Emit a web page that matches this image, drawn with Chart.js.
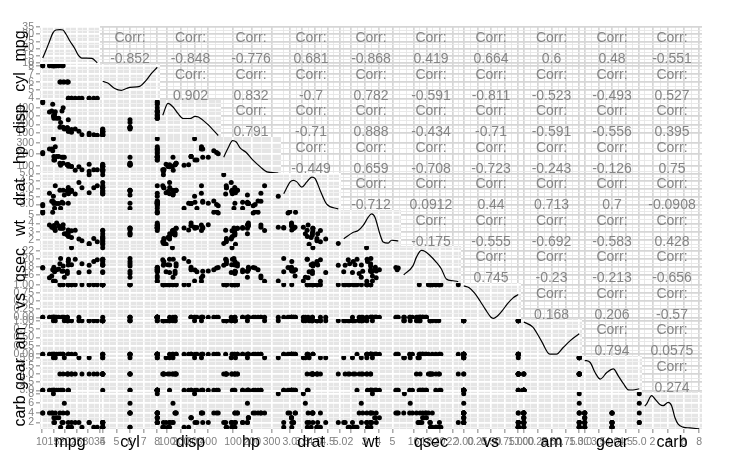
<!DOCTYPE html>
<html><head><meta charset="utf-8">
<script src="https://cdn.jsdelivr.net/npm/chart.js@4.4.1/dist/chart.umd.min.js"></script>
<style>
html,body{margin:0;padding:0;background:#fff;}
#wrap{position:relative;width:731px;height:462px;overflow:hidden;background:#fff;font-family:"Liberation Sans",Arial,sans-serif;}
#wrap canvas{position:absolute;}
.ct{position:absolute;color:#858585;font-size:14px;line-height:14px;text-align:center;white-space:nowrap;width:80px;}
.xt{position:absolute;font-size:16px;line-height:16px;color:#000;text-align:center;white-space:nowrap;width:80px;}
.yt{position:absolute;font-size:16px;line-height:16px;color:#000;text-align:center;white-space:nowrap;width:80px;transform:translate(-50%,-50%) rotate(-90deg);}
</style></head><body><div id="wrap"></div>
<script>
// ---- data (mtcars) ----
const vars = ['mpg','cyl','disp','hp','drat','wt','qsec','vs','am','gear','carb'];
const mpg  = [21,21,22.8,21.4,18.7,18.1,14.3,24.4,22.8,19.2,17.8,16.4,17.3,15.2,10.4,10.4,14.7,32.4,30.4,33.9,21.5,15.5,15.2,13.3,19.2,27.3,26,30.4,15.8,19.7,15,21.4];
const cyl  = [6,6,4,6,8,6,8,4,4,6,6,8,8,8,8,8,8,4,4,4,4,8,8,8,8,4,4,4,8,6,8,4];
const disp = [160,160,108,258,360,225,360,146.7,140.8,167.6,167.6,275.8,275.8,275.8,472,460,440,78.7,75.7,71.1,120.1,318,304,350,400,79,120.3,95.1,351,145,301,121];
const hp   = [110,110,93,110,175,105,245,62,95,123,123,180,180,180,205,215,230,66,52,65,97,150,150,245,175,66,91,113,264,175,335,109];
const drat = [3.9,3.9,3.85,3.08,3.15,2.76,3.21,3.69,3.92,3.92,3.92,3.07,3.07,3.07,2.93,3,3.23,4.08,4.93,4.22,3.7,2.76,3.15,3.73,3.08,4.08,4.43,3.77,4.22,3.62,3.54,4.11];
const wt   = [2.62,2.875,2.32,3.215,3.44,3.46,3.57,3.19,3.15,3.44,3.44,4.07,3.73,3.78,5.25,5.424,5.345,2.2,1.615,1.835,2.465,3.52,3.435,3.84,3.845,1.935,2.14,1.513,3.17,2.77,3.57,2.78];
const qsec = [16.46,17.02,18.61,19.44,17.02,20.22,15.84,20,22.9,18.3,18.9,17.4,17.6,18,17.98,17.82,17.42,19.47,18.52,19.9,20.01,16.87,17.3,15.41,17.05,18.9,16.7,16.9,14.5,15.5,14.6,18.6];
const vs   = [0,0,1,1,0,1,0,1,1,1,1,0,0,0,0,0,0,1,1,1,1,0,0,0,0,1,0,1,0,0,0,1];
const am   = [1,1,1,0,0,0,0,0,0,0,0,0,0,0,0,0,0,1,1,1,0,0,0,0,0,1,1,1,1,1,1,1];
const gear = [4,4,4,3,3,3,3,4,4,4,4,3,3,3,3,3,3,4,4,4,3,3,3,3,3,4,5,5,5,5,5,4];
const carb = [4,4,1,1,2,1,4,2,2,4,4,3,3,3,4,4,4,1,2,1,1,2,2,4,2,1,2,2,4,6,8,2];

// tick labels per variable
const mpgTicks  = ['10','15','20','25','30','35'];
const cylTicks  = ['4','5','6','7','8'];
const dispTicks = ['100','200','300','400'];
const hpTicks   = ['100','200','300'];
const dratTicks = ['3.0','3.5','4.0','4.5','5.0'];
const wtTicks   = ['2','3','4','5'];
const qsecTicks = ['16','18','20','22'];
const vsTicks   = ['0.00','0.25','0.50','0.75','1.00'];
const amTicks   = ['0.00','0.25','0.50','0.75','1.00'];
const gearTicks = ['3.0','3.5','4.0','4.5','5.0'];
const carbTicks = ['2','4','6','8'];

// density curves on the diagonal: [value, relative height in panel]
const mpgDens  = [[10.4,0.16],[11.8,0.37],[13.5,0.64],[14.8,0.84],[16.1,0.92],[17.8,0.93],[19.1,0.92],[20.4,0.81],[22.1,0.62],[24.2,0.42],[25.5,0.26],[27.3,0.16],[29.4,0.16],[31.6,0.15],[33.9,0.03]];
const cylDens  = [[4,0.52],[4.37,0.47],[4.88,0.32],[5.37,0.27],[5.74,0.32],[6.0,0.35],[6.71,0.38],[7.2,0.55],[7.56,0.73],[8,0.91]];
const dispDens = [[71.1,0.59],[108.9,0.91],[145.6,0.81],[182.2,0.63],[218.8,0.5],[267.9,0.5],[304.5,0.56],[328.7,0.54],[390.2,0.36],[472,0.04]];
const hpDens   = [[52,0.44],[76,0.71],[98,0.9],[117,0.86],[138,0.69],[169,0.57],[205,0.35],[242,0.17],[276,0.03],[335,0.0]];
const dratDens = [[2.76,0.44],[3.02,0.76],[3.15,0.8],[3.28,0.76],[3.48,0.62],[3.68,0.76],[3.88,0.89],[4.01,0.85],[4.21,0.53],[4.47,0.16],[4.93,0.03]];
const wtDens   = [[1.513,0.2],[2.2,0.38],[2.55,0.43],[2.91,0.57],[3.27,0.8],[3.51,0.89],[3.75,0.8],[4.1,0.34],[4.34,0.11],[4.7,0.08],[4.94,0.16],[5.424,0.14]];
const qsecDens = [[14.5,0.22],[15.94,0.47],[16.46,0.7],[17.23,0.88],[17.73,0.86],[18.5,0.75],[19.53,0.56],[20.3,0.38],[21.06,0.11],[22.08,0.06],[22.9,0.04]];
const vsDens   = [[0,0.92],[0.1,0.87],[0.2,0.72],[0.3,0.5],[0.4,0.26],[0.5,0.05],[0.55,0.02],[0.6,0.06],[0.7,0.22],[0.8,0.42],[0.9,0.58],[1,0.68]];
const amDens   = [[0,0.92],[0.164,0.78],[0.317,0.41],[0.469,0.05],[0.591,0.05],[0.712,0.23],[0.834,0.41],[1,0.6]];
const gearDens = [[3,0.88],[3.2,0.82],[3.38,0.54],[3.57,0.36],[3.81,0.54],[4.05,0.64],[4.23,0.45],[4.42,0.23],[4.6,0.06],[4.77,0.055],[5,0.09]];
const carbDens = [[1,0.62],[1.25,0.68],[1.89,0.9],[2.31,0.81],[2.95,0.66],[3.37,0.63],[4.01,0.72],[4.45,0.63],[4.87,0.31],[5.29,0.13],[5.93,0.05],[6.79,0.03],[8,0.005]];

// correlations shown in the upper triangle (row-major)
const corrMpg  = ['-0.852','-0.848','-0.776','0.681','-0.868','0.419','0.664','0.6','0.48','-0.551'];
const corrCyl  = ['0.902','0.832','-0.7','0.782','-0.591','-0.811','-0.523','-0.493','0.527'];
const corrDisp = ['0.791','-0.71','0.888','-0.434','-0.71','-0.591','-0.556','0.395'];
const corrHp   = ['-0.449','0.659','-0.708','-0.723','-0.243','-0.126','0.75'];
const corrDrat = ['-0.712','0.0912','0.44','0.713','0.7','-0.0908'];
const corrWt   = ['-0.175','-0.555','-0.692','-0.583','0.428'];
const corrQsec = ['0.745','-0.23','-0.213','-0.656'];
const corrVs   = ['0.168','0.206','-0.57'];
const corrAm   = ['0.794','0.0575'];
const corrGear = ['0.274'];

// ---- assembly ----
const DATA = {mpg,cyl,disp,hp,drat,wt,qsec,vs,am,gear,carb};
const TICKS = {mpg:mpgTicks,cyl:cylTicks,disp:dispTicks,hp:hpTicks,drat:dratTicks,wt:wtTicks,qsec:qsecTicks,vs:vsTicks,am:amTicks,gear:gearTicks,carb:carbTicks};
const DENS = {mpg:mpgDens,cyl:cylDens,disp:dispDens,hp:hpDens,drat:dratDens,wt:wtDens,qsec:qsecDens,vs:vsDens,am:amDens,gear:gearDens,carb:carbDens};
const CORR = [corrMpg,corrCyl,corrDisp,corrHp,corrDrat,corrWt,corrQsec,corrVs,corrAm,corrGear];

const LEFT = 40, TOP = 27.3, PW = 60.18, PH = 36.5, M = 6, N = vars.length;
const YAX = 40, XAX = 34;

function range(v){ const d = DATA[v]; const lo = Math.min(...d), hi = Math.max(...d), e = (hi-lo)*0.05; return [lo-e, hi+e]; }
function tickList(v){
  const [lo,hi] = range(v); const maj = TICKS[v].map(s=>({value:parseFloat(s), lab:s, minor:false}));
  const out = [];
  const step = maj[1].value - maj[0].value;
  const mids = [maj[0].value - step/2]; for (let i=0;i<maj.length-1;i++) mids.push((maj[i].value+maj[i+1].value)/2); mids.push(maj[maj.length-1].value+step/2);
  mids.forEach(m=>{ if (m>=lo && m<=hi) out.push({value:m, lab:'', minor:true}); });
  maj.forEach(t=>{ if (t.value>=lo-1e-9 && t.value<=hi+1e-9) out.push(t); });
  return out.sort((a,b)=>a.value-b.value);
}
const bgPlugin = { id:'bg', beforeDraw(chart, args, opts){ const {ctx, chartArea:a} = chart; ctx.save(); ctx.fillStyle = opts.color; ctx.fillRect(a.left, a.top, a.right-a.left, a.bottom-a.top); ctx.restore(); } };

function scaleCfg(v, axis, show, upper){
  const [lo,hi] = range(v); const tl = tickList(v);
  const majC = upper ? '#d6d6d6' : '#ffffff', minC = upper ? '#e6e6e6' : '#f4f4f4';
  return {
    type:'linear', position: axis==='x' ? 'bottom' : 'left', min: lo, max: hi,
    afterBuildTicks: s => { s.ticks = tl.map(t=>({value:t.value, lab:t.lab, minor:t.minor})); },
    afterFit: s => { if (axis==='x'){ s.height = show ? XAX : 0; s.paddingLeft = 0; s.paddingRight = 0; } else { s.width = show ? YAX : 0; s.paddingTop = 0; s.paddingBottom = 0; } },
    border:{display:false},
    grid:{ color: c => (c.tick && c.tick.minor) ? minC : majC, lineWidth: c => (c.tick && c.tick.minor) ? 0.9 : 1.7,
           drawTicks: show, tickLength: 4, tickWidth: 1, tickColor: c => (c.tick && c.tick.minor) ? 'rgba(0,0,0,0)' : '#7f7f7f' },
    ticks:{ display: show, autoSkip:false, maxRotation:0, minRotation:0, padding: axis==='x' ? 3 : 2, color:'#7f7f7f',
            font:{family:'"Liberation Sans", Arial, sans-serif', size:10.5}, callback:(val,i,ts)=> ts[i] && !ts[i].minor ? ts[i].lab : '' }
  };
}

const wrap = document.getElementById('wrap');
function px(c){ return Math.round(LEFT + c*PW); }
function py(r){ return Math.round(TOP + r*PH); }

for (let r=0;r<N;r++){
  for (let c=0;c<N;c++){
    const xv = vars[c], yv = vars[r];
    const x0 = px(c), x1 = px(c+1), y0 = py(r), y1 = py(r+1);
    const kind = r===c ? 'diag' : (r>c ? 'lower' : 'upper');
    const showY = c===0, showX = r===N-1;
    const padL = showY ? 0 : M, padR = M, padT = M, padB = showX ? 0 : M;
    const axL = showY ? YAX : 0, axB = showX ? XAX : 0;
    const cw = (x1-x0) + padL + padR + axL, ch = (y1-y0) + padT + padB + axB;
    const cv = document.createElement('canvas');
    cv.width = cw; cv.height = ch;
    cv.style.width = cw+'px'; cv.style.height = ch+'px';
    cv.style.left = (x0 - padL - axL)+'px'; cv.style.top = (y0 - padT)+'px';
    wrap.appendChild(cv);
    const datasets = [];
    if (kind==='lower'){
      datasets.push({type:'scatter', data: DATA[xv].map((x,i)=>({x, y: DATA[yv][i]})), pointRadius:2.5, pointBackgroundColor:'#000', pointBorderWidth:0, xAxisID:'x', yAxisID:'y'});
    } else if (kind==='diag'){
      datasets.push({type:'line', data: DENS[xv].map(([x,y])=>({x,y})), borderColor:'#000', borderWidth:1.2, pointRadius:0, fill:false, cubicInterpolationMode:'monotone', xAxisID:'x', yAxisID:'yd'});
    }
    new Chart(cv, {
      type:'scatter',
      data:{datasets},
      options:{
        responsive:false, maintainAspectRatio:false, animation:false, devicePixelRatio:1, events:[],
        layout:{padding:{left:padL, right:padR, top:padT, bottom:padB}},
        plugins:{legend:{display:false}, tooltip:{enabled:false}, bg:{color: kind==='upper' ? '#ffffff' : '#e5e5e5'}},
        scales:{
          x: scaleCfg(xv,'x',showX, kind==='upper'),
          y: scaleCfg(yv,'y',showY, kind==='upper'),
          yd: {type:'linear', display:false, min:0, max:1}
        }
      },
      plugins:[bgPlugin]
    });
    if (kind==='upper'){
      const cx = (x0+x1)/2;
      const a = document.createElement('div'); a.className='ct'; a.textContent='Corr:';
      a.style.left = (cx-40)+'px'; a.style.top = (y0+10-7)+'px'; wrap.appendChild(a);
      const b = document.createElement('div'); b.className='ct'; b.textContent = CORR[r][c-r-1];
      b.style.left = (cx-40)+'px'; b.style.top = (y0+30.5-7)+'px'; wrap.appendChild(b);
    }
  }
}
// axis titles
for (let i=0;i<N;i++){
  const cx = (px(i)+px(i+1))/2;
  const t = document.createElement('div'); t.className='xt'; t.textContent = vars[i];
  t.style.left = (cx-40)+'px'; t.style.top = '434px'; wrap.appendChild(t);
  const cy = (py(i)+py(i+1))/2;
  const u = document.createElement('div'); u.className='yt'; u.textContent = vars[i];
  u.style.left = '20px'; u.style.top = cy+'px'; wrap.appendChild(u);
}
</script></body></html>
